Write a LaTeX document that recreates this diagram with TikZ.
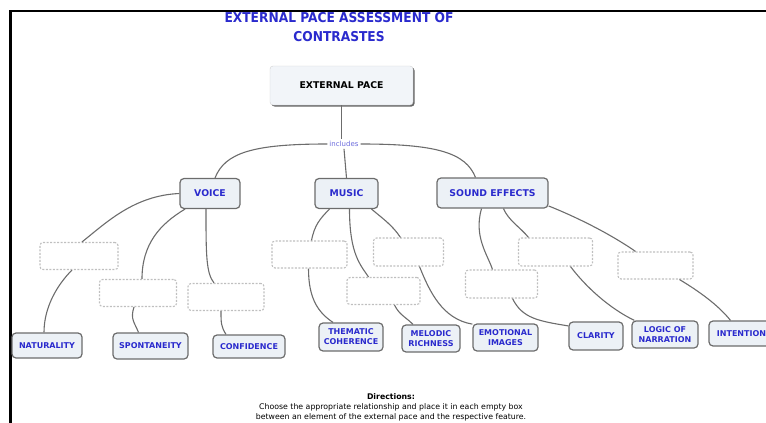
\documentclass[tikz,border=0pt]{standalone}
\usepackage{xcolor}
\usepackage{fontspec}
\setmainfont{DejaVu Sans}
\newfontfamily\titlefont[FakeStretch=0.9]{DejaVu Sans}
\usepackage{tikz}
\usetikzlibrary{shadows}
\definecolor{mapblue}{RGB}{42,42,205}
\definecolor{mapline}{RGB}{108,108,108}
\definecolor{boxfill}{RGB}{236,241,246}
\tikzset{
  font={\fontsize{8pt}{10pt}\selectfont}}

\begin{document}
\begin{tikzpicture}[x=1pt, y=-1pt]

        \tikzset{edge/.style = {draw=mapline, line width=1.1pt},
                 concept/.style = {rounded corners=4pt, draw=mapline, line width=1.2pt, fill=boxfill,
                   text=mapblue, font={\fontsize{8pt}{10pt}\selectfont\bfseries}, align=center,
                   inner sep=0pt, minimum height=26pt},
                 branch/.style = {concept, font={\fontsize{9.3pt}{11pt}\selectfont\bfseries}, minimum height=30pt},
                 blank/.style = {rounded corners=3pt, draw=gray!50, line width=1.1pt,
                   dash pattern=on 2pt off 1.5pt, inner sep=0pt, minimum width=75pt, minimum height=27pt}}

        \path[clip, use as bounding box] (0,0) rectangle (766,423);
        \draw[line width=2.5pt] (10.3,423) |- (766,11.2);

        % vertices
        \node[text=mapblue, align=center, font={\titlefont\fontsize{13.6pt}{19pt}\selectfont\bfseries}] (title)
            at (339,27.5) {EXTERNAL PACE ASSESSMENT OF\\CONTRASTES};
        \node[rounded corners=3pt, draw=gray!35, fill=boxfill!70, minimum width=143pt, minimum height=39pt,
            drop shadow={shadow xshift=1.5pt, shadow yshift=-1.5pt, fill=gray!80!black, opacity=1},
            font={\fontsize{9.3pt}{11pt}\selectfont\bfseries}] (ext)
            at (341.5,85.5) {EXTERNAL PACE};
        \node[text=mapblue!70, inner sep=2pt, font={\fontsize{7pt}{8pt}\selectfont}] (inc) at (344,144) {includes};

        \node[branch, minimum width=60pt] (voice) at (210,193.5) {VOICE};
        \node[branch, minimum width=63pt] (music) at (346.5,193.5) {MUSIC};
        \node[branch, minimum width=111pt] (sound) at (492.5,193) {SOUND EFFECTS};

        \node[blank, minimum width=78pt] (v1) at (79,256) {};
        \node[blank, minimum width=77pt] (v2) at (138,293) {};
        \node[blank, minimum width=76pt] (v3) at (226,297) {};
        \node[blank, minimum width=75pt] (m1) at (309.5,254.5) {};
        \node[blank, minimum width=70pt, minimum height=28pt] (m2) at (408.5,252) {};
        \node[blank, minimum width=73pt] (m3) at (383.5,291) {};
        \node[blank, minimum width=72pt, minimum height=28pt] (s1) at (501.5,284) {};
        \node[blank, minimum width=74pt, minimum height=28pt] (s2) at (555.5,252) {};
        \node[blank, minimum width=75pt] (s3) at (655.5,265.5) {};

        \node[concept, minimum width=70pt, minimum height=25pt] (nat) at (47,345.5) {NATURALITY};
        \node[concept, minimum width=75pt] (spo) at (150.5,346) {SPONTANEITY};
        \node[concept, minimum width=72pt, minimum height=23pt] (con) at (249,346.5) {CONFIDENCE};
        \node[concept, minimum width=64pt, minimum height=28pt] (the) at (351,337) {THEMATIC\\COHERENCE};
        \node[concept, minimum width=58pt, minimum height=27pt] (mel) at (431,338.5) {MELODIC\\RICHNESS};
        \node[concept, minimum width=65pt, minimum height=27pt] (emo) at (505.5,337.5) {EMOTIONAL\\IMAGES};
        \node[concept, minimum width=54pt, minimum height=28pt] (cla) at (596,336) {CLARITY};
        \node[concept, minimum width=66pt, minimum height=27pt] (log) at (665,334.5) {LOGIC OF\\NARRATION};
        \node[concept, minimum width=65pt, minimum height=25pt] (int) at (741.5,333.5) {INTENTION};

        \node[align=center, font={\fontsize{7.8pt}{10.3pt}\selectfont}] (dir) at (391,407.3)
            {\textbf{Directions:}\\Choose the appropriate relationship and place it in each empty box\\between an element of the external pace and the respective feature.};

        %edges
        \draw[edge] (ext.south) -- (ext.south |- inc.north);
        \draw[edge] (inc.west) .. controls +(-75,0) and +(10,-25) .. ([xshift=5pt]voice.north);
        \draw[edge] (inc.south) -- (music.north);
        \draw[edge] (inc.east) .. controls +(75,0) and +(-10,-25) .. ([xshift=-17pt]sound.north);

        \draw[edge] (voice.west) .. controls +(-45,2) and +(25,-20) .. ([xshift=3pt]v1.north);
        \draw[edge] ([xshift=-25pt]voice.south) .. controls +(-25,15) and +(0,-35) .. ([xshift=4pt]v2.north);
        \draw[edge] ([xshift=-4pt]voice.south) .. controls +(0,45) and +(-8,-10) .. ([xshift=-12pt]v3.north);
        \draw[edge] ([xshift=-7pt]v1.south) .. controls +(-15,15) and +(0,-25) .. ([xshift=-3pt]nat.north);
        \draw[edge] ([xshift=-4pt]v2.south) .. controls +(-4,12) and +(-4,-10) .. ([xshift=-12pt]spo.north);
        \draw[edge] ([xshift=-5pt]v3.south) .. controls +(0,12) and +(-5,-8) .. ([xshift=-23pt]con.north);

        \draw[edge] ([xshift=-17pt]music.south) .. controls +(-10,10) and +(3,-15) .. ([xshift=2pt]m1.north);
        \draw[edge] ([xshift=3pt]music.south) .. controls +(0,45) and +(-8,-12) .. ([xshift=-15pt]m3.north);
        \draw[edge] ([xshift=25pt]music.south) .. controls +(12,10) and +(-8,-12) .. ([xshift=-8pt]m2.north);
        \draw[edge] ([xshift=-1pt]m1.south) .. controls +(0,30) and +(-15,-10) .. ([xshift=-18pt]the.north);
        \draw[edge] ([xshift=11pt]m3.south) .. controls +(5,10) and +(-8,-8) .. ([xshift=-18pt]mel.north);
        \draw[edge] ([xshift=11pt]m2.south) .. controls +(10,25) and +(-30,-5) .. (emo.158);

        \draw[edge] ([xshift=-11pt]sound.south) .. controls +(-8,28) and +(-5,-15) .. ([xshift=-9pt]s1.north);
        \draw[edge] ([xshift=11pt]sound.south) .. controls +(5,12) and +(-8,-10) .. ([xshift=-27pt]s2.north);
        \draw[edge] (sound.-13) .. controls +(35,14) and +(-20,-14) .. ([xshift=-20pt]s3.north);
        \draw[edge] ([xshift=11pt]s1.south) .. controls +(10,20) and +(-30,-5) .. (cla.160);
        \draw[edge] ([xshift=15pt]s2.south) .. controls +(15,20) and +(-25,-12) .. ([xshift=3pt]log.north west);
        \draw[edge] ([xshift=24pt]s3.south) .. controls +(20,12) and +(-12,-15) .. ([xshift=-11pt]int.north);

\end{tikzpicture}
\end{document}
